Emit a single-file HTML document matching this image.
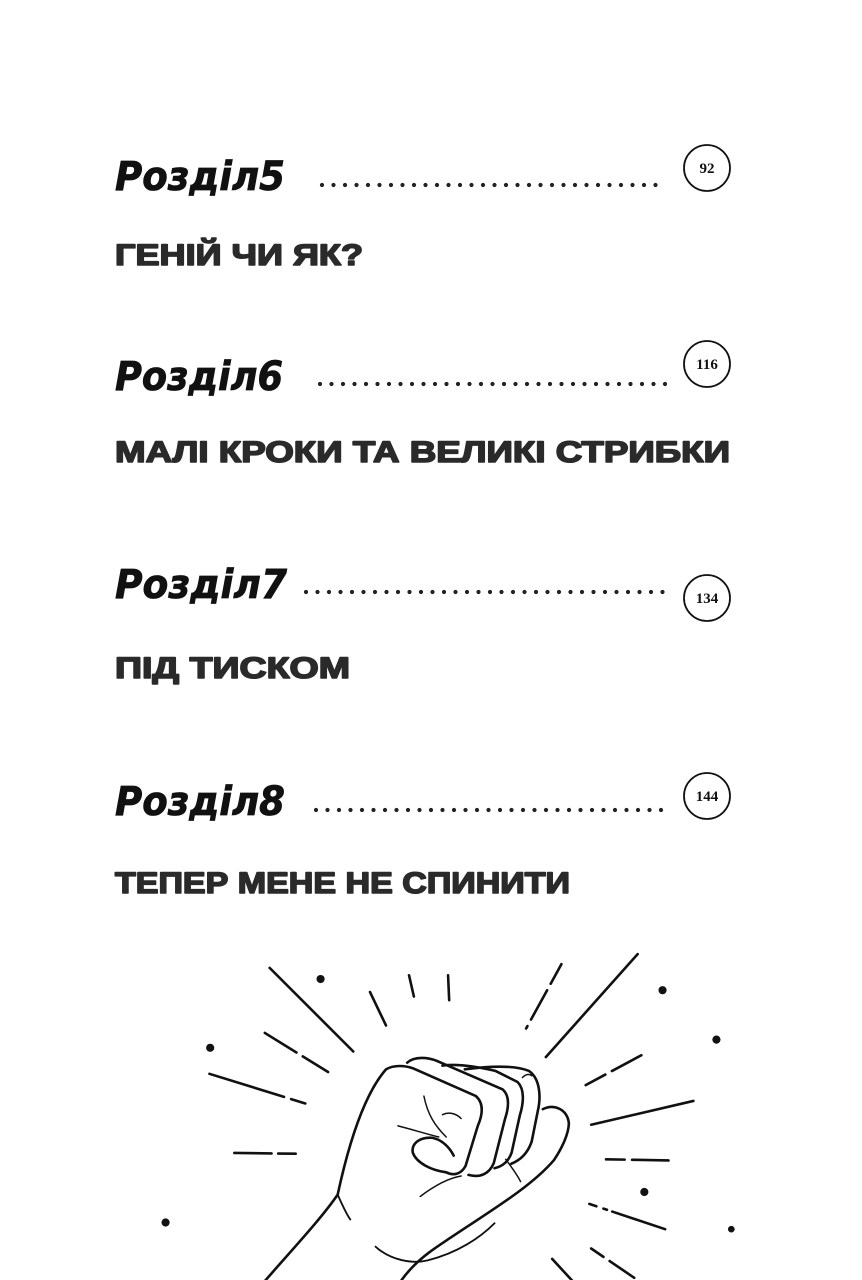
<!DOCTYPE html>
<html><head><meta charset="utf-8"><style>
html,body{margin:0;padding:0;background:#fff;}
svg{display:block;}
.h{font-family:"DejaVu Sans","Liberation Sans",sans-serif;font-weight:bold;font-style:italic;font-size:40px;fill:#111;stroke:#111;stroke-width:0.8;}
.t{font-family:"Liberation Sans","DejaVu Sans",sans-serif;font-weight:bold;font-size:30px;fill:#2a2a2a;stroke:#2a2a2a;stroke-width:1.6;stroke-linejoin:round;}
.n{font-family:"Liberation Serif","DejaVu Serif",serif;font-weight:bold;font-size:15px;fill:#111;}
.d{stroke:#222;stroke-width:4.2;stroke-linecap:round;stroke-dasharray:0 11.5;fill:none;}
.c{fill:none;stroke:#111;stroke-width:1.8;}
</style></head><body>
<svg width="862" height="1280" viewBox="0 0 862 1280" xmlns="http://www.w3.org/2000/svg">
<rect width="862" height="1280" fill="#fff"/>

<text class="h" x="115" y="190" textLength="170" lengthAdjust="spacingAndGlyphs">Розділ5</text>
<line class="d" x1="322" y1="185" x2="665" y2="185"/>
<circle class="c" cx="707" cy="168" r="23"/>
<text class="n" x="707" y="173" text-anchor="middle">92</text>
<text class="t" x="115" y="265" textLength="248" lengthAdjust="spacingAndGlyphs">ГЕНІЙ ЧИ ЯК?</text>

<text class="h" x="115" y="390" textLength="168" lengthAdjust="spacingAndGlyphs">Розділ6</text>
<line class="d" x1="320" y1="384" x2="668" y2="384"/>
<circle class="c" cx="707" cy="364" r="23"/>
<text class="n" x="707" y="369" text-anchor="middle">116</text>
<text class="t" x="115" y="462" textLength="615" lengthAdjust="spacingAndGlyphs">МАЛІ КРОКИ ТА ВЕЛИКІ СТРИБКИ</text>

<text class="h" x="115" y="598" textLength="172" lengthAdjust="spacingAndGlyphs">Розділ7</text>
<line class="d" x1="306" y1="592" x2="665" y2="592"/>
<circle class="c" cx="707" cy="598" r="23"/>
<text class="n" x="707" y="603" text-anchor="middle">134</text>
<text class="t" x="115" y="678" textLength="235" lengthAdjust="spacingAndGlyphs">ПІД ТИСКОМ</text>

<text class="h" x="115" y="815" textLength="170" lengthAdjust="spacingAndGlyphs">Розділ8</text>
<line class="d" x1="316" y1="810" x2="668" y2="810"/>
<circle class="c" cx="707" cy="796" r="23"/>
<text class="n" x="707" y="801" text-anchor="middle">144</text>
<text class="t" x="115" y="893" textLength="455" lengthAdjust="spacingAndGlyphs">ТЕПЕР МЕНЕ НЕ СПИНИТИ</text>

<g transform="translate(160,940) scale(0.3717)" fill="none" stroke="#111" stroke-width="7" stroke-linecap="round" stroke-linejoin="round">
  <line x1="295" y1="75" x2="520" y2="300"/>
  <line x1="565" y1="140" x2="608" y2="230"/>
  <line x1="670" y1="95" x2="683" y2="152"/>
  <line x1="775" y1="95" x2="778" y2="162"/>
  <line x1="1080" y1="65" x2="985" y2="238" stroke-dasharray="60 20 90 20"/>
  <line x1="1285" y1="38" x2="1038" y2="315"/>
  <line x1="282" y1="250" x2="460" y2="360" stroke-dasharray="100 20 80"/>
  <line x1="133" y1="360" x2="398" y2="442" stroke-dasharray="210 20 40"/>
  <line x1="200" y1="573" x2="365" y2="575" stroke-dasharray="100 18 50"/>
  <line x1="1295" y1="310" x2="1133" y2="397" stroke-dasharray="90 20 60"/>
  <line x1="1435" y1="433" x2="1160" y2="497"/>
  <line x1="1200" y1="590" x2="1368" y2="593" stroke-dasharray="50 20 100"/>
  <line x1="1155" y1="710" x2="1365" y2="780" stroke-dasharray="20 20 10 15 150"/>
  <line x1="1160" y1="830" x2="1285" y2="915" stroke-dasharray="40 20 80"/>
  <line x1="1055" y1="858" x2="1200" y2="1015"/>
  <line x1="985" y1="962" x2="1010" y2="1015"/>
  <line x1="882" y1="945" x2="890" y2="1015"/>
  <line x1="800" y1="930" x2="803" y2="1015"/>
  <g fill="#111" stroke="none">
    <circle cx="432" cy="105" r="11"/><circle cx="135" cy="290" r="11"/>
    <circle cx="1352" cy="135" r="11"/><circle cx="1497" cy="268" r="11"/>
    <circle cx="1303" cy="678" r="11"/><circle cx="15" cy="760" r="11"/>
    <circle cx="1537" cy="778" r="9"/>
  </g>
  <path d="M200,1015 C300,890 420,770 478,685 C505,560 545,420 608,348 C630,335 660,338 680,345 L850,420 C872,440 868,470 855,500 L822,608 C810,630 790,635 770,625"/>
  <path d="M665,330 C685,312 720,316 742,324 L922,402 C942,420 938,452 928,482 L898,600 C886,630 860,640 830,632"/>
  <path d="M760,338 C800,332 850,340 902,352 L962,382 C982,402 978,440 968,472 L946,572 C936,600 918,610 900,614"/>
  <path d="M820,348 C880,340 950,335 992,352 C1022,372 1026,420 1016,462 L1000,542 C990,572 970,592 945,602"/>
  <path d="M1030,455 C1060,440 1095,455 1100,492 C1100,522 1080,562 1060,592 C1000,662 900,722 780,802 C720,842 640,890 600,1015"/>
  <path d="M770,625 C730,620 690,600 680,572 C676,546 700,530 732,532 C760,537 780,560 790,580"/>
  <path d="M580,825 C620,862 680,872 720,862 C800,842 860,802 900,762" stroke-width="5"/>
  <path d="M478,685 C490,712 500,735 512,752" stroke-width="5"/>
  <path d="M710,420 C720,470 740,500 770,530 M760,470 C780,460 800,470 810,480 M640,500 C680,510 710,520 750,530" stroke-width="4"/>
  <path d="M700,690 C740,660 780,640 810,635 M930,590 C945,610 960,630 970,650 M975,370 C985,360 995,360 1000,365" stroke-width="4"/>
</g>
</svg>
</body></html>
